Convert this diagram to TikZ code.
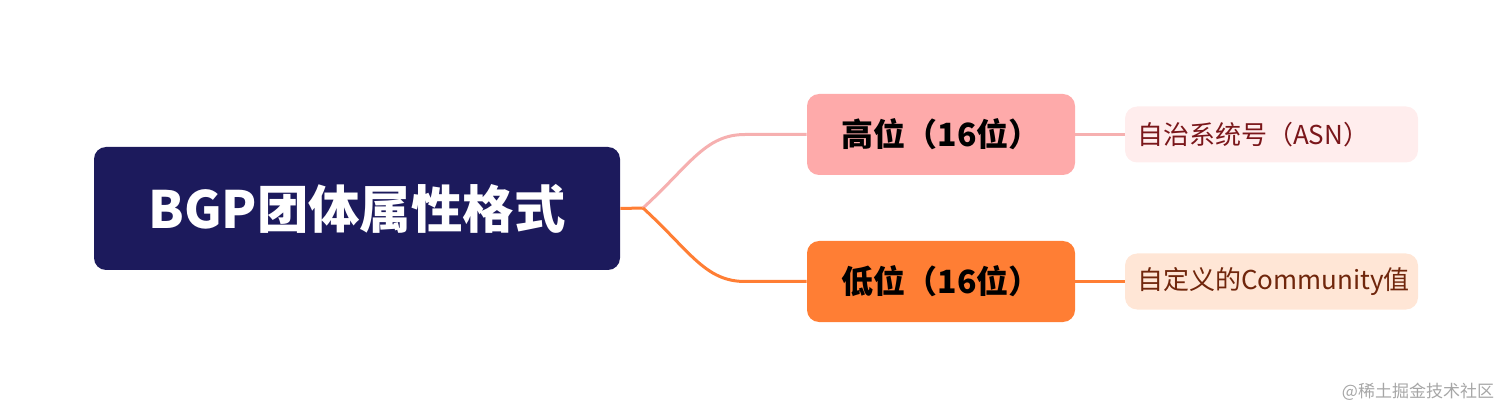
\documentclass[tikz,border=0pt]{standalone}
\usepackage{fontspec}
\setmainfont{Noto Sans CJK SC}
\usepackage{xcolor}

\definecolor{rootblue}{RGB}{28,26,92}
\definecolor{highpink}{RGB}{254,170,170}
\definecolor{highline}{RGB}{246,176,176}
\definecolor{highleaf}{RGB}{255,237,237}
\definecolor{hightext}{RGB}{122,22,26}
\definecolor{loworange}{RGB}{255,126,52}
\definecolor{lowleaf}{RGB}{255,230,214}
\definecolor{lowtext}{RGB}{112,38,12}

\begin{document}
\begin{tikzpicture}[x=0.5pt, y=-0.5pt,
    rootbox/.style={fill=rootblue, rounded corners=6pt, inner sep=0pt,
        minimum width=263pt, minimum height=61.5pt, text=white, font=\bfseries\fontsize{25.7}{30}\selectfont},
    branchbox/.style={rounded corners=6pt, inner sep=0pt,
        minimum width=134pt, minimum height=40.5pt, font=\bfseries\fontsize{16}{20}\selectfont},
    leafbox/.style={rounded corners=6pt, inner ysep=0pt, inner xsep=6pt, text width=134.5pt, align=left,
        minimum height=28pt, font=\fontsize{13}{15}\selectfont},
    link/.style={line width=1.5pt}
]
    \useasboundingbox (0,0) rectangle (1512,417);

    % Root
    \node[rootbox] (root) at (357,208.5) {BGP团体属性格式};

    % Branches
    \node[branchbox, fill=highpink] (high) at (941,134.5) {高位（16位）};
    \node[branchbox, fill=loworange] (low) at (941,281.5) {低位（16位）};

    % Leaves
    \node[leafbox, fill=highleaf, text=hightext] (asn) at (1271.5,134.5) {自治系统号（ASN）};
    \node[leafbox, fill=lowleaf, text=lowtext] (comm) at (1271.5,281.5) {自定义的Community值};

    % Connectors
    \coordinate (fork) at (643,208);
    \draw[link, loworange] (root.east) -- (fork);
    \draw[link, highline] (fork) .. controls (690,165) and (705,134.5) .. (745,134.5) -- (high.west);
    \draw[link, loworange] (fork) .. controls (690,251) and (705,281.5) .. (745,281.5) -- (low.west);
    \draw[link, highline] (high.east) -- (asn.west);
    \draw[link, loworange] (low.east) -- (comm.west);

    % Watermark
    \node[text=black!35, font=\fontsize{8.5}{10}\selectfont] (mark) at (1418,392) {@稀土掘金技术社区};
\end{tikzpicture}
\end{document}
